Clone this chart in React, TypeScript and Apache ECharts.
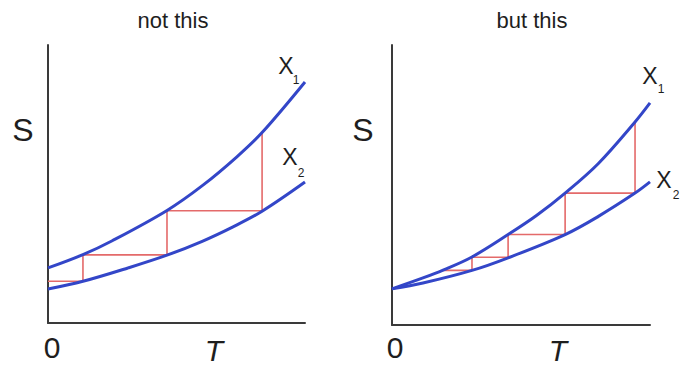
import React, { useEffect, useRef } from "react";
import * as echarts from "echarts";

// Left panel ("not this")
const leftX1X = [0, 13.6, 25, 46.3, 60.3, 73.5, 83.3, 100];
const leftX1Y = [19.8, 24.6, 29.6, 40.5, 49.6, 59.8, 68.5, 86.7];
const leftX2X = [0, 13.6, 31.1, 46.3, 60, 72, 83.3, 100];
const leftX2Y = [12.2, 15.0, 19.8, 24.4, 29.4, 34.6, 40.2, 50.7];
const leftStairX = [0, 13.6, 13.6, 46.3, 46.3, 83.3, 83.3];
const leftStairY = [15.0, 15.0, 24.5, 24.5, 40.4, 40.4, 68.5];

// Right panel ("but this")
const rightX1X = [0, 12, 19.8, 31, 45, 56, 67.1, 80, 94.2, 100];
const rightX1Y = [12.9, 16.8, 19.6, 24.3, 32.3, 39.1, 47.1, 57.7, 72.5, 79.3];
const rightX2X = [0, 12, 31, 45, 67.1, 80, 94.2, 100];
const rightX2Y = [12.9, 15.0, 19.5, 24.0, 32.3, 38.8, 47.1, 51.1];
const rightStairX = [19.8, 31, 31, 45, 45, 67.1, 67.1, 94.2, 94.2];
const rightStairY = [19.5, 19.5, 24.2, 24.2, 32.3, 32.3, 47.1, 47.1, 72.5];

const titles = ["not this", "but this"];
const axisNames = { y: "S", x: "T", origin: "0" };
const curveNames = ["X", "1", "2"];

const zip = (xs: number[], ys: number[]) => xs.map((x, i) => [x, ys[i]]);

const FONT = "Liberation Sans, Arial, sans-serif";
const BLUE = "#3346c8";
const RED = "#e46a6a";
const AXIS = "#3a3a3a";
const TEXT = "#1e1e1e";

export default function App() {
  const ref = useRef<HTMLDivElement>(null);
  useEffect(() => {
    if (!ref.current) return;
    const chart = echarts.init(ref.current, null, { renderer: "svg" });
    const axisCommon = {
      type: "value" as const,
      min: 0,
      max: 100,
      axisLine: { show: true, lineStyle: { color: AXIS, width: 2 } },
      axisTick: { show: false },
      axisLabel: { show: false },
      splitLine: { show: false },
    };
    const curve = (data: number[][], idx: number) => ({
      type: "line" as const,
      xAxisIndex: idx,
      yAxisIndex: idx,
      data,
      smooth: 0.35,
      showSymbol: false,
      clip: false,
      lineStyle: { color: BLUE, width: 3 },
      z: 3,
    });
    const stair = (data: number[][], idx: number) => ({
      type: "line" as const,
      xAxisIndex: idx,
      yAxisIndex: idx,
      data,
      smooth: false,
      showSymbol: false,
      clip: false,
      lineStyle: { color: RED, width: 1.6 },
      z: 2,
    });
    const txt = (x: number, y: number, text: string, size: number, italic = false) => ({
      type: "text" as const,
      x,
      y,
      style: {
        text,
        fontSize: size,
        fontFamily: FONT,
        fontStyle: italic ? "italic" : "normal",
        fill: TEXT,
        align: "center",
        verticalAlign: "middle",
      },
    });
    const panelLabels = (sx: number, ox: number, tx: number) => [
      txt(sx, 130, axisNames.y, 32),
      txt(ox, 347, axisNames.origin, 30),
      txt(tx, 350, axisNames.x, 30, true),
    ];
    chart.setOption({
      animation: false,
      backgroundColor: "#ffffff",
      grid: [
        { left: 48, top: 45, width: 257, height: 278 },
        { left: 392, top: 45, width: 258, height: 280 },
      ],
      xAxis: [
        { ...axisCommon, gridIndex: 0 },
        { ...axisCommon, gridIndex: 1 },
      ],
      yAxis: [
        { ...axisCommon, gridIndex: 0 },
        { ...axisCommon, gridIndex: 1 },
      ],
      series: [
        stair(zip(leftStairX, leftStairY), 0),
        curve(zip(leftX1X, leftX1Y), 0),
        curve(zip(leftX2X, leftX2Y), 0),
        stair(zip(rightStairX, rightStairY), 1),
        curve(zip(rightX1X, rightX1Y), 1),
        curve(zip(rightX2X, rightX2Y), 1),
      ],
      graphic: [
        txt(173, 20, titles[0], 22),
        txt(532, 20, titles[1], 22),
        ...panelLabels(23, 52, 214),
        ...panelLabels(363, 395, 558),
        txt(286, 66, curveNames[0], 23),
        txt(296, 80, curveNames[1], 12),
        txt(290, 157, curveNames[0], 23),
        txt(301, 173, curveNames[2], 12),
        txt(650, 76, curveNames[0], 23),
        txt(661, 89, curveNames[1], 12),
        txt(664, 180, curveNames[0], 23),
        txt(676, 195, curveNames[2], 12),
      ],
    });
    return () => chart.dispose();
  }, []);
  return (
    <div
      ref={ref}
      style={{ position: "fixed", left: 0, top: 0, width: 681, height: 370, background: "#fff" }}
    />
  );
}
